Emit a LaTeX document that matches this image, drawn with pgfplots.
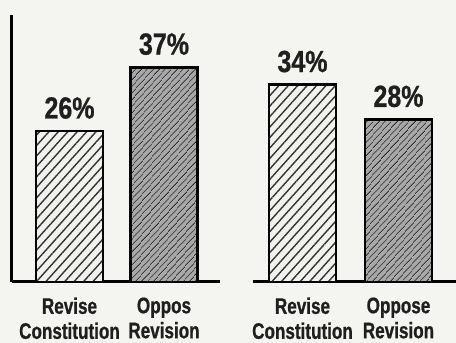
\documentclass[border=0pt]{standalone}
\usepackage{pgfplots}
\pgfplotsset{compat=1.18}
\usepackage{fontspec}
\setmainfont{Liberation Sans}[FakeStretch=0.76, BoldFeatures={FakeStretch=0.76, FakeBold=0.8}]
\newfontfamily\valfont{Liberation Sans}[FakeStretch=0.82, BoldFeatures={FakeStretch=0.82, FakeBold=0.8}]
\usetikzlibrary{patterns.meta}
\definecolor{bg}{HTML}{F4F4F0}
\definecolor{lightfill}{HTML}{F1F1EE}
\definecolor{darkfill}{HTML}{A8A8A8}
\begin{document}
\begin{tikzpicture}[x=1pt,y=1pt]
\fill[bg] (0,0) rectangle (456,343);
\pgfplotsset{
  barbase/.style={
    scale only axis, clip=false,
    ymin=0, ymax=46,
    ytick=\empty, major tick length=0pt,
    bar shift=0pt, bar width=67,
    xtick style={draw=none},
    /pgf/number format/assume math mode=true,
    xticklabel style={align=center, anchor=north, yshift=-12pt,
      font=\bfseries\fontsize{22.5}{25}\selectfont, text=black!88},
    nodes near coords,
    nodes near coords style={font=\valfont\bfseries\fontsize{30.5}{32}\selectfont, text=black!88, inner sep=0pt, anchor=south, yshift=11pt},
    point meta=y,
    nodes near coords={\pgfmathprintnumber{\pgfplotspointmeta}\%},
  },
  lightbar/.style={ybar, draw=black, line width=2.6pt, fill=lightfill,
    postaction={pattern={Lines[angle=48,distance=7pt,line width=1.4pt]}, pattern color=black!80}},
  darkbar/.style={ybar, draw=black, line width=2.6pt, fill=darkfill,
    postaction={pattern={Lines[angle=48,distance=4pt,line width=1.0pt]}, pattern color=black!85}},
}
\begin{axis}[barbase,
  at={(12pt,61pt)}, anchor=south west,
  width=208pt, height=267pt,
  xmin=12, xmax=220,
  axis lines=left,
  axis line style={-, line width=3pt, black},
  every outer x axis line/.append style={-},
  every outer y axis line/.append style={-},
  xtick={69.5,164},
  xticklabels={Revise\\Constitution, Oppos\\Revision},
]
\addplot[lightbar] coordinates {(69.5,26)};
\addplot[darkbar] coordinates {(164,37)};
\end{axis}
\begin{axis}[barbase,
  at={(253pt,61pt)}, anchor=south west,
  width=203pt, height=267pt,
  xmin=253, xmax=456,
  axis x line=bottom, axis y line=none,
  axis line style={-, line width=3pt, black},
  every outer x axis line/.append style={-},
  xtick={302.5,398.5},
  xticklabels={Revise\\Constitution, Oppose\\Revision},
]
\addplot[lightbar] coordinates {(302.5,34)};
\addplot[darkbar] coordinates {(398.5,28)};
\end{axis}
\pgfresetboundingbox
\useasboundingbox (0,0) rectangle (456,343);
\end{tikzpicture}
\end{document}
